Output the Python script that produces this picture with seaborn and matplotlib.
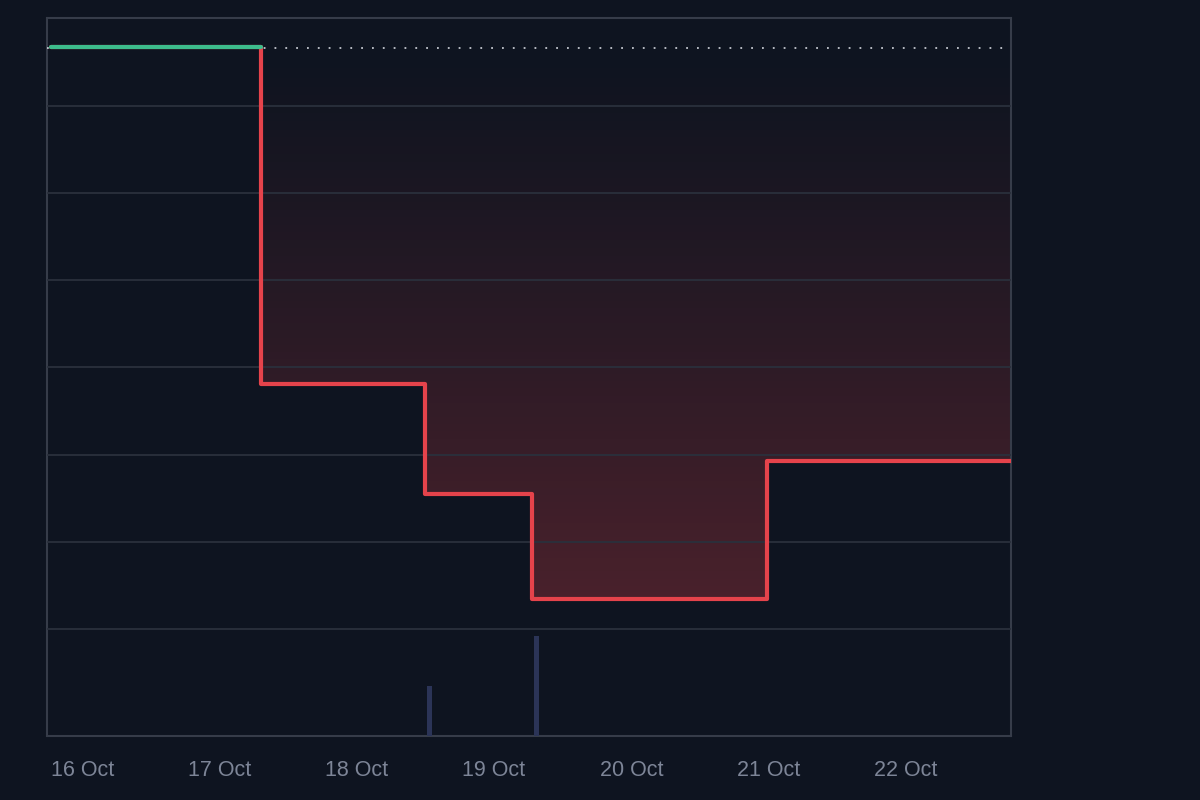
import numpy as np
import pandas as pd
import seaborn as sns
import matplotlib.pyplot as plt
import matplotlib.dates as mdates

# --- data ---
step_times = ['2023-10-16 00:00', '2023-10-17 12:45', '2023-10-18 17:25',
              '2023-10-19 12:10', '2023-10-21 05:15', '2023-10-23 00:00']
step_values = [66.8, 28.1, 15.5, 3.4, 19.3, 19.3]
baseline = 66.8

vol_times = ['2023-10-18 18:15', '2023-10-19 13:00']
vol_values = [1.0, 2.0]

tick_days = ['2023-10-16', '2023-10-17', '2023-10-18', '2023-10-19',
             '2023-10-20', '2023-10-21', '2023-10-22']
tick_labels = ['16 Oct', '17 Oct', '18 Oct', '19 Oct', '20 Oct', '21 Oct', '22 Oct']

BG = '#0e1420'
RED = '#e5434b'
GREEN = '#3dbd8c'
GRID = '#2a303c'
SPINE = '#363c49'
TXT = '#7d8597'

df = pd.DataFrame({'time': pd.to_datetime(step_times), 'value': step_values})
green = df.iloc[:2].copy()
green['value'] = baseline

sns.set_theme(style='dark', rc={'figure.facecolor': BG, 'axes.facecolor': BG})
plt.rcParams['font.family'] = ['Liberation Sans', 'DejaVu Sans']

fig = plt.figure(figsize=(12, 8), dpi=100)
ax = fig.add_axes([47 / 1200, 1 - 736 / 800, (1011 - 47) / 1200, (736 - 18) / 800])
ax.set_facecolor(BG)

xmin = mdates.date2num(pd.Timestamp('2023-10-16 00:00')) - 4 / 137.2
xmax = mdates.date2num(pd.Timestamp('2023-10-23 00:00'))

# gradient fill between baseline and red step line
red = df.iloc[1:]
xr = mdates.date2num(red['time'])
poly = ax.fill_between(xr, red['value'], baseline, step='post', color='none', lw=0)
alpha = np.linspace(0.32, 0.0, 256) ** 1.1
rgba = np.zeros((256, 1, 4))
rgba[..., 0], rgba[..., 1], rgba[..., 2] = 0.88, 0.26, 0.29
rgba[:, 0, 3] = alpha
im = ax.imshow(rgba, extent=[xr[0], xr[-1], min(step_values), baseline],
               aspect='auto', origin='lower', zorder=1)
im.set_clip_path(poly.get_paths()[0], transform=ax.transData)

# lines
ax.axhline(baseline - 0.1, color='#c3c7cf', lw=1.3, ls=(0, (1, 5)), zorder=3)
sns.lineplot(data=df, x='time', y='value', ax=ax, color=RED, lw=3,
             drawstyle='steps-post', estimator=None, sort=False, zorder=4)
sns.lineplot(data=green, x='time', y='value', ax=ax, color=GREEN, lw=3,
             drawstyle='steps-post', estimator=None, sort=False, zorder=5)

ax.set_xlim(xmin, xmax)
ax.set_ylim(-12.3, 70.1)
ax.set_yticks(np.arange(0, 61, 10))
ax.set_yticklabels([])
ax.grid(axis='y', color=GRID, lw=1.3, zorder=2)
ax.grid(axis='x', visible=False)
ax.set_axisbelow(False)
ax.set_xlabel('')
ax.set_ylabel('')
ax.set_xticks(mdates.date2num(pd.to_datetime(tick_days)))
ax.set_xticklabels(tick_labels, ha='left', color=TXT, fontsize=15.5)
ax.tick_params(axis='x', length=0, pad=17)
ax.tick_params(axis='y', length=0)
for s in ax.spines.values():
    s.set_visible(True)
    s.set_color(SPINE)
    s.set_linewidth(1.5)

# volume bars on a twin axis
ax2 = ax.twinx()
ax2.bar(pd.to_datetime(vol_times), vol_values, width=0.036, color='#2b3457',
        edgecolor='none', linewidth=0, zorder=1)
ax2.set_ylim(0, 14.36)
ax2.set_xlim(xmin, xmax)
ax2.set_yticks([])
ax2.grid(False)
for s in ax2.spines.values():
    s.set_visible(False)

fig.savefig('out.png', dpi=100, facecolor=BG)
